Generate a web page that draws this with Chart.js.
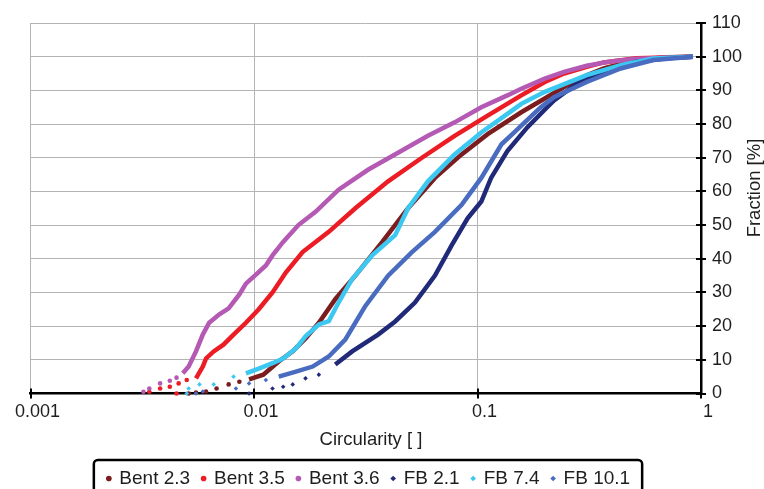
<!DOCTYPE html>
<html>
<head>
<meta charset="utf-8">
<script src="https://cdn.jsdelivr.net/npm/chart.js@4.4.0/dist/chart.umd.min.js"></script>
<style>
    html, body { margin: 0; padding: 0; background: #fff; }
</style>
</head>
<body>
<canvas id="myChart" width="764" height="489"></canvas>
<script>
const FONT = "'Liberation Sans', Arial, sans-serif";
const TEXT = '#1e1e1e';

const seriesNames = ['Bent 2.3', 'Bent 3.5', 'Bent 3.6', 'FB 2.1', 'FB 7.4', 'FB 10.1'];
const seriesColors = ['#7b1c1e', '#ec1c24', '#b45ab4', '#202a78', '#3cc8f0', '#4a6cc0'];
const seriesMarkers = ['circle', 'circle', 'circle', 'rectRot', 'rectRot', 'rectRot'];

const xTickValues = [0.001, 0.01, 0.1, 1];
const xTickLabels = ['0.001', '0.01', '0.1', '1'];

// [circularity, fraction %] - sparse points at the small end are shown as loose dots
const bent23Tail = [[0.0051, 0], [0.0055, 0.3], [0.0061, 0.6], [0.0068, 1.5], [0.0077, 2.7], [0.0086, 3.5]];
const bent23 = [[0.0095, 4.2], [0.011, 5.6], [0.0129, 9.5], [0.0149, 12.5], [0.017, 16.3], [0.0195, 21], [0.0231, 28],
    [0.0284, 35], [0.0375, 45], [0.0489, 55], [0.0645, 64], [0.0849, 71], [0.111, 77], [0.157, 83.5], [0.199, 87.5],
    [0.244, 91], [0.308, 94.5], [0.367, 96.5], [0.514, 99], [0.70, 99.8], [0.92, 100]];

const bent35Tail = [[0.0034, 0.5], [0.0038, 1.5], [0.0042, 2], [0.0045, 0], [0.0046, 3], [0.005, 4]];
const bent35 = [[0.0055, 4.5], [0.0059, 8], [0.0061, 10.4], [0.0066, 12.5], [0.0073, 14.5], [0.0081, 17.5], [0.0092, 21],
    [0.0105, 25], [0.0121, 30], [0.0139, 36], [0.0165, 42], [0.0216, 48], [0.0284, 55], [0.0398, 63], [0.0564, 70],
    [0.079, 76.5], [0.111, 82.5], [0.157, 88.5], [0.2, 92.5], [0.244, 95], [0.308, 97], [0.367, 98.3], [0.514, 99.5], [0.92, 100]];

const bent36Tail = [[0.0032, 0.5], [0.0034, 1.5], [0.0038, 3], [0.0042, 3.8], [0.0045, 4.7]];
const bent36 = [[0.0048, 6], [0.0051, 8], [0.0055, 12.5], [0.0059, 17.5], [0.0063, 21], [0.007, 23.5], [0.0077, 25.3],
    [0.0086, 29.4], [0.0092, 32.6], [0.0102, 35.3], [0.0113, 38], [0.0121, 41], [0.0135, 45], [0.0158, 50], [0.0189, 54],
    [0.0239, 60.5], [0.0325, 66.5], [0.0441, 71.5], [0.06, 76.5], [0.079, 80.5], [0.104, 85], [0.136, 88.5], [0.157, 90.5],
    [0.2, 93.5], [0.244, 95.5], [0.308, 97.3], [0.394, 98.6], [0.514, 99.4], [0.92, 100]];

const fb21Tail = [[0.0095, 0], [0.0121, 1.5], [0.0135, 2], [0.0149, 2.7], [0.017, 4.5], [0.0195, 5.6]];
const fb21 = [[0.0231, 8.6], [0.0275, 12.5], [0.0359, 17.5], [0.0428, 21.4], [0.0525, 27], [0.0645, 35], [0.0766, 44],
    [0.0903, 52], [0.104, 57], [0.115, 64], [0.136, 72], [0.167, 79], [0.205, 85], [0.22, 87], [0.278, 92], [0.367, 95.5],
    [0.514, 98.5], [0.728, 99.6], [0.92, 100]];

const fb74Tail = [[0.005, 0], [0.0051, 1.5], [0.0057, 2.7], [0.0066, 2.7], [0.0081, 5]];
const fb74 = [[0.0092, 6], [0.0105, 7.4], [0.0121, 9], [0.0135, 10.4], [0.0154, 13.4], [0.017, 17], [0.0195, 20.5],
    [0.0216, 21.5], [0.0239, 27], [0.0275, 34], [0.0338, 41], [0.0428, 47], [0.0489, 55], [0.06, 63], [0.079, 71],
    [0.104, 77.5], [0.136, 83], [0.157, 86], [0.199, 89.5], [0.308, 94.5], [0.437, 97.5], [0.612, 99.5], [0.92, 100]];

const fb101Tail = [[0.0055, 0], [0.0059, 0.6], [0.0083, 1.5], [0.0095, 3], [0.0113, 4]];
const fb101 = [[0.0129, 5], [0.0154, 6.5], [0.0183, 8], [0.0216, 11], [0.0256, 16], [0.0284, 21], [0.0315, 26],
    [0.0398, 35], [0.0509, 42], [0.0645, 48], [0.0849, 56], [0.104, 64], [0.128, 74], [0.146, 77.5], [0.157, 79.5],
    [0.192, 85], [0.22, 88], [0.308, 92.5], [0.437, 96.5], [0.612, 99], [0.92, 100]];

const tails = [bent23Tail, bent35Tail, bent36Tail, fb21Tail, fb74Tail, fb101Tail];
const curves = [bent23, bent35, bent36, fb21, fb74, fb101];

function toPoints(pairs) {
    return pairs.map(p => ({ x: p[0], y: p[1] }));
}

let datasets = [];
for (let i = 0; i < seriesNames.length; i++) {
    const nTail = tails[i].length;
    datasets.push({
        label: seriesNames[i],
        data: toPoints(tails[i].concat(curves[i])),
        borderColor: seriesColors[i],
        backgroundColor: seriesColors[i],
        borderWidth: 4.5,
        pointStyle: seriesMarkers[i],
        pointRadius: ctx => ctx.dataIndex < nTail ? 2.3 : 0,
        pointBorderWidth: 0,
        pointHoverRadius: 0,
        tension: 0,
        clip: 6,
        // no line through the loose dots
        segment: { borderColor: ctx => ctx.p0DataIndex < nTail ? 'rgba(0,0,0,0)' : undefined },
        order: seriesNames.length - i, // later series painted on top
    });
}

// axis titles, tick crosses and the legend frame
const decorations = {
    id: 'decorations',
    afterLayout(chart) {
        // legend row sits a little left of the canvas centre
        chart.legend.right = chart.width - 26;
    },
    afterDraw(chart) {
        const ctx = chart.ctx;
        const area = chart.chartArea;
        const xs = chart.scales.x;
        const ys = chart.scales.y;
        ctx.save();
        ctx.strokeStyle = '#000';
        ctx.lineWidth = 2;
        ctx.beginPath();
        for (const v of xTickValues) {
            const px = Math.round(xs.getPixelForValue(v));
            ctx.moveTo(px, area.bottom - 5);
            ctx.lineTo(px, area.bottom + 5);
        }
        for (let v = 0; v <= 110; v += 10) {
            const py = Math.round(ys.getPixelForValue(v));
            ctx.moveTo(area.right - 5, py);
            ctx.lineTo(area.right + 5, py);
        }
        ctx.stroke();

        ctx.fillStyle = TEXT;
        ctx.font = '18.5px ' + FONT;
        ctx.textAlign = 'center';
        ctx.textBaseline = 'middle';
        ctx.fillText('Circularity [ ]', 371, 440);
        ctx.translate(755, 188);
        ctx.rotate(-Math.PI / 2);
        ctx.fillText('Fraction [%]', 0, 0);
        ctx.restore();

        const boxes = chart.legend.legendHitBoxes;
        if (boxes && boxes.length) {
            const left = boxes[0].left - 14;
            const last = boxes[boxes.length - 1];
            const right = last.left + last.width + 12;
            const top = boxes[0].top - 9;
            ctx.save();
            ctx.strokeStyle = '#000';
            ctx.lineWidth = 2.5;
            ctx.beginPath();
            ctx.roundRect(left, top, right - left, 60, 4);
            ctx.stroke();
            ctx.restore();
        }
    }
};

const myChart = new Chart(document.getElementById('myChart'), {
    type: 'line',
    data: { datasets: datasets },
    plugins: [decorations],
    options: {
        responsive: false,
        animation: false,
        layout: { padding: { left: 0, right: 0, top: 23, bottom: -9 } },
        plugins: {
            tooltip: { enabled: false },
            legend: {
                position: 'bottom',
                labels: {
                    usePointStyle: true,
                    boxWidth: 2,
                    boxHeight: 4,
                    padding: 12.5,
                    color: TEXT,
                    font: { family: FONT, size: 19 },
                    generateLabels: chart => chart.data.datasets.map((ds, i) => ({
                        text: ds.label,
                        fillStyle: seriesColors[i],
                        strokeStyle: seriesColors[i],
                        lineWidth: 0,
                        pointStyle: seriesMarkers[i],
                        fontColor: TEXT,
                        hidden: false,
                        datasetIndex: i,
                    })),
                },
            },
        },
        scales: {
            x: {
                type: 'logarithmic',
                min: 0.001,
                max: 1,
                afterBuildTicks: scale => {
                    scale.ticks = xTickValues.map(v => ({ value: v }));
                },
                afterFit: scale => { scale.height = 63; },
                ticks: {
                    autoSkip: false,
                    maxRotation: 0,
                    padding: 8,
                    labelOffset: 7,
                    color: TEXT,
                    font: { family: FONT, size: 18 },
                    callback: (val, idx) => xTickLabels[idx],
                },
                grid: { color: '#b4b4b4', lineWidth: 1, drawTicks: false },
                border: { color: '#000', width: 2.5 },
            },
            y: {
                position: 'right',
                min: 0,
                max: 110,
                afterFit: scale => { scale.width = 63; },
                ticks: {
                    stepSize: 10,
                    padding: 11,
                    color: TEXT,
                    font: { family: FONT, size: 18 },
                },
                grid: { color: '#b4b4b4', lineWidth: 1, drawTicks: false },
                border: { color: '#000', width: 2.5 },
            },
        },
    },
});
</script>
</body>
</html>
